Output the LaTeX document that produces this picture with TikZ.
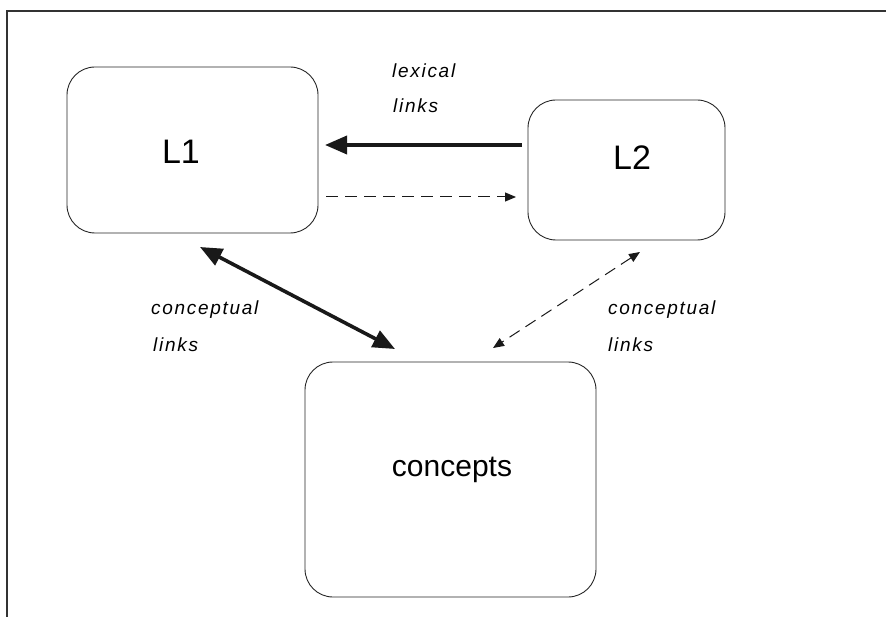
\documentclass[tikz,border=0pt]{standalone}
\usepackage{fontspec}
\setmainfont{Liberation Sans}
\usetikzlibrary{arrows.meta}
\tikzset{
  BigTri/.tip={Triangle[length=22pt,width=18pt]},
  SmallTri/.tip={Triangle[length=11pt,width=9pt]},
  box/.style={draw=black!85, line width=0.9pt, rounded corners=28pt, inner sep=0pt},
  lbl/.style={anchor=base west, inner sep=0pt, font=\fontsize{19}{22}\selectfont\itshape\addfontfeatures{LetterSpace=9}},
  thick arr/.style={line width=3.6pt, draw=black!90},
  dash arr/.style={line width=1pt, draw=black!90, dash pattern=on 12pt off 7pt},
}
\begin{document}
\begin{tikzpicture}[x=1pt,y=-1pt]
\useasboundingbox (0,0) rectangle (886,617);
% frame
\coordinate (ftr) at (886,11);
\coordinate (ftl) at (7,11);
\coordinate (fbl) at (7,617);
\draw[line width=1.2pt, black!80] (ftr) -- (ftl) -- (fbl);
% boxes
\node[box, minimum width=251pt, minimum height=166pt] (L1) at (192.5,150) {};
\node[box, minimum width=197pt, minimum height=140pt] (L2) at (626.5,170) {};
\node[box, minimum width=291pt, minimum height=235pt] (C) at (450.5,479.5) {};
\node[font=\fontsize{34}{40}\selectfont] (L1t) at (181,152) {L1};
\node[font=\fontsize{34}{40}\selectfont] (L2t) at (632,158) {L2};
\node[font=\fontsize{30}{36}\selectfont] (Ct) at (452,470) {concepts};
% arrow ends
\coordinate (a1s) at (522,145);
\coordinate (a1e) at (325,145);
\coordinate (a2s) at (326,197);
\coordinate (a2e) at (516,197);
\coordinate (a3s) at (200,247);
\coordinate (a3e) at (395,349);
\coordinate (a4s) at (640,252);
\coordinate (a4e) at (493,348);
\draw[thick arr, -BigTri] (a1s) -- (a1e);
\draw[dash arr, -SmallTri] (a2s) -- (a2e);
\draw[thick arr, BigTri-BigTri] (a3s) -- (a3e);
\draw[dash arr, SmallTri-SmallTri] (a4s) -- (a4e);
% labels
\node[lbl] (lex1) at (392,78) {lexical};
\node[lbl] (lex2) at (393,113) {links};
\node[lbl] (cl1) at (151,315) {conceptual};
\node[lbl] (cl2) at (153,352) {links};
\node[lbl] (cr1) at (608,315) {conceptual};
\node[lbl] (cr2) at (608,352) {links};
\end{tikzpicture}
\end{document}
